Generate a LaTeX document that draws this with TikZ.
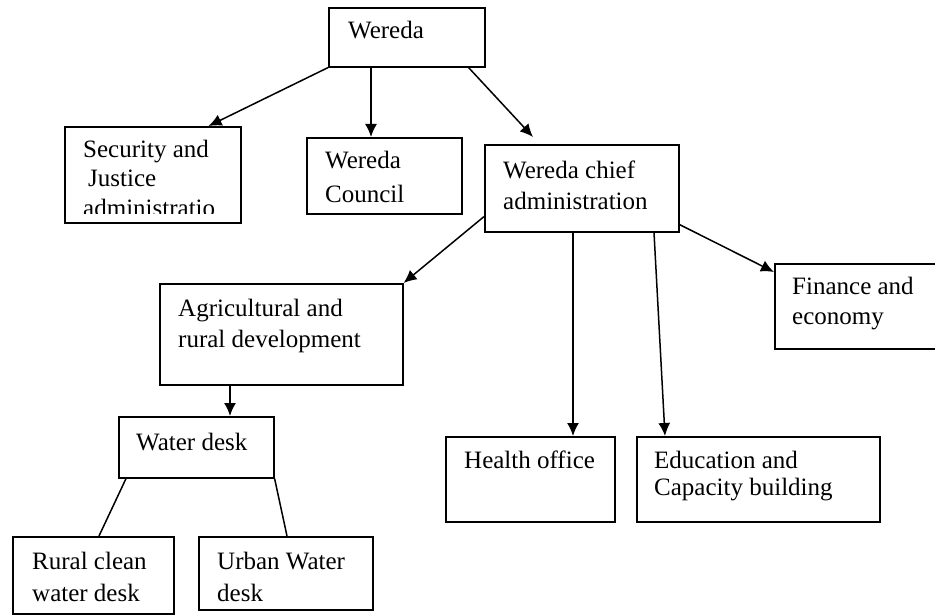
\documentclass[tikz,border=0pt]{standalone}
\usepackage{fontspec}
\setmainfont{Liberation Serif}
\usetikzlibrary{arrows.meta}

\begin{document}
\begin{tikzpicture}[x = 1pt, y = -1pt, > = {Latex[length = 13pt, width = 12pt]},
	box/.style = {draw, line width = 1.6pt, inner sep = 0pt, anchor = north west},
	txt/.style = {anchor = base west, align = left, inner sep = 0pt, font = \fontsize{25}{31}\selectfont},
	link/.style = {line width = 1.5pt}]

	\useasboundingbox (0, 0) rectangle (935, 615);

	% Boxes, top row (text nodes sit on the baseline of their last line)

	\node [box, minimum width = 156pt, minimum height = 59pt] (wereda) at (328, 7) {};
	\node [txt] (wereda-t) at (348, 39) {Wereda};

	\node [box, minimum width = 176pt, minimum height = 96pt] (security) at (64, 126) {};
	\begin{scope}
		\clip (64, 126) rectangle (240, 213);
		\node [txt] (security-t) at (83, 217) {Security and\\[-2pt]\hspace*{5pt}Justice\\[0pt]administratio};
	\end{scope}

	\node [box, minimum width = 155pt, minimum height = 76pt] (council) at (306, 137) {};
	\node [txt] (council-t) at (325, 203) {Wereda\\[4pt]Council};

	\node [box, minimum width = 194pt, minimum height = 87pt] (chief) at (484, 144) {};
	\node [txt] (chief-t) at (503, 209) {Wereda chief\\administration};

	% Boxes, middle row

	\node [box, minimum width = 243pt, minimum height = 101pt] (agri) at (159, 283) {};
	\node [txt] (agri-t) at (178, 347) {Agricultural and\\rural development};

	\node [box, minimum width = 170pt, minimum height = 85pt] (finance) at (774, 263) {};
	\node [txt] (finance-t) at (792, 324) {Finance and\\[-1pt]economy};

	\node [box, minimum width = 155pt, minimum height = 61pt] (water) at (118, 416) {};
	\node [txt] (water-t) at (136, 450) {Water desk};

	\node [box, minimum width = 169pt, minimum height = 85pt] (health) at (445, 436) {};
	\node [txt] (health-t) at (464, 468) {Health office};

	\node [box, minimum width = 243pt, minimum height = 85pt] (edu) at (636, 436) {};
	\node [txt] (edu-t) at (654, 495) {Education and\\[-4pt]Capacity building};

	% Boxes, bottom row

	\node [box, minimum width = 161pt, minimum height = 77pt] (rural) at (12, 536) {};
	\node [txt] (rural-t) at (32, 601) {Rural clean\\[1pt]water desk};

	\node [box, minimum width = 174pt, minimum height = 73pt] (urban) at (198, 536) {};
	\node [txt] (urban-t) at (217, 601) {Urban Water\\[1pt]desk};

	% Arrows

	\draw [link, ->] (wereda.south west) -- ([xshift = -33pt] security.north east);
	\draw [link, ->] ([xshift = 43pt] wereda.south west) -- ([xshift = 43pt] wereda.south west |- council.north);
	\draw [link, ->] ([xshift = -17pt] wereda.south east) -- ([xshift = 49pt, yshift = 7pt] chief.north west);

	\draw [link, ->] ([yshift = 16pt] chief.south west) -- (agri.north east);
	\draw [link, ->] ([xshift = 89pt] chief.south west) -- ([xshift = 89pt] chief.south west |- health.north);
	\draw [link, ->] ([xshift = 170pt] chief.south west) -- ([xshift = 29pt] edu.north west);
	\draw [link, ->] ([yshift = 8pt] chief.south east) -- ([yshift = -9pt] finance.north west);

	\draw [link, ->] ([xshift = 71pt] agri.south west) -- ([xshift = 71pt] agri.south west |- water.north);

	% Plain lines to the desks

	\draw [link] ([xshift = 8pt] water.south west) -- ([xshift = 87pt] rural.north west);
	\draw [link] (water.south east) -- ([xshift = 89pt] urban.north west);

\end{tikzpicture}
\end{document}
